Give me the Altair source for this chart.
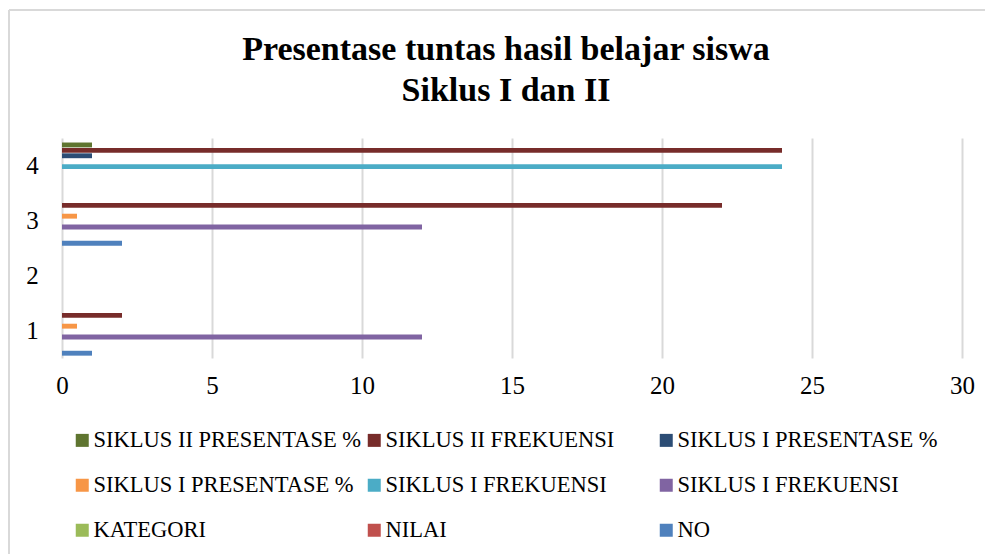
import altair as alt
import pandas as pd

categories = ["1", "2", "3", "4"]
series_keys = ["S2P", "S2F", "S1P_b", "S1P_a", "S1F_b", "S1F_a", "KAT", "NIL", "NO"]
series_names = ["SIKLUS II PRESENTASE %", "SIKLUS II FREKUENSI", "SIKLUS I PRESENTASE %",
                "SIKLUS I PRESENTASE %", "SIKLUS I FREKUENSI", "SIKLUS I FREKUENSI",
                "KATEGORI", "NILAI", "NO"]
colors = ["#5F7530", "#772C2A", "#2C4D75", "#F79646", "#4BACC6", "#8064A2",
          "#9BBB59", "#C0504D", "#4F81BD"]

# values per category 1..4
s2_presentase = [None, None, None, 1]
s2_frekuensi = [2, None, 22, 24]
s1_presentase_b = [None, None, None, 1]
s1_presentase_a = [0.5, None, 0.5, None]
s1_frekuensi_b = [None, None, None, 24]
s1_frekuensi_a = [12, None, 12, None]
kategori = [None, None, None, None]
nilai = [None, None, None, None]
no = [1, None, 2, None]

series_values = [s2_presentase, s2_frekuensi, s1_presentase_b, s1_presentase_a,
                 s1_frekuensi_b, s1_frekuensi_a, kategori, nilai, no]

rows = []
for key, vals in zip(series_keys, series_values):
    for cat, v in zip(categories, vals):
        if v is not None:
            rows.append({"cat": cat, "series": key, "value": v})
df = pd.DataFrame(rows)

label_expr = ""
for k, n in zip(series_keys, series_names):
    label_expr += f"datum.value == '{k}' ? '{n}' : "
label_expr += "datum.value"

FONT = "Liberation Serif"

bars = alt.Chart(df).mark_bar(height={"band": 0.95}).encode(
    x=alt.X("value:Q", scale=alt.Scale(domain=[0, 30], nice=False),
            axis=alt.Axis(values=[0, 5, 10, 15, 20, 25, 30], title=None, grid=True,
                          gridColor="#D9D9D9", gridWidth=2, domain=False, ticks=False,
                          labelFont=FONT, labelFontSize=25, labelColor="#000000",
                          labelPadding=15, labelFlush=False)),
    y=alt.Y("cat:N", scale=alt.Scale(domain=categories[::-1], paddingInner=0.12, paddingOuter=0.06),
            axis=alt.Axis(title=None, domain=False, ticks=False, labelFont=FONT,
                          labelFontSize=25, labelColor="#000000", labelPadding=30,
                          labelAlign="center")),
    yOffset=alt.YOffset("series:N", scale=alt.Scale(domain=series_keys, paddingInner=0.05)),
    color=alt.Color("series:N", scale=alt.Scale(domain=series_keys, range=colors),
                    legend=alt.Legend(title=None, orient="none", legendX=9, legendY=291,
                                      direction="horizontal", columns=3, labelExpr=label_expr,
                                      gridAlign="all",
                                      symbolType="square", symbolSize=169, symbolStrokeWidth=0,
                                      labelFont=FONT, labelFontSize=22.5, labelColor="#000000",
                                      labelOffset=0, columnPadding=1, rowPadding=22,
                                      labelLimit=400)),
)

border_top = alt.Chart(pd.DataFrame({"a": [0]})).mark_rule(color="#D9D9D9", strokeWidth=2).encode(
    x=alt.value(-53), x2=alt.value(931), y=alt.value(-128))
border_left = alt.Chart(pd.DataFrame({"a": [0]})).mark_rule(color="#D9D9D9", strokeWidth=2).encode(
    x=alt.value(-53), y=alt.value(-128), y2=alt.value(420))

chart = alt.layer(border_top, border_left, bars).properties(
    width=900, height=220,
    title=alt.Title(["Presentase tuntas hasil belajar siswa", "Siklus I dan II"],
                    font=FONT, fontSize=34, fontWeight="bold", color="#000000",
                    anchor="middle", frame="group", offset=38, lineHeight=41, dx=-6, dy=137),
    autosize=alt.AutoSizeParams(type="none"),
    padding={"left": 54, "top": 130, "right": 23, "bottom": 196},
).configure_view(stroke=None)

chart.save("out.html", embed_options={"renderer": "svg", "actions": False})
